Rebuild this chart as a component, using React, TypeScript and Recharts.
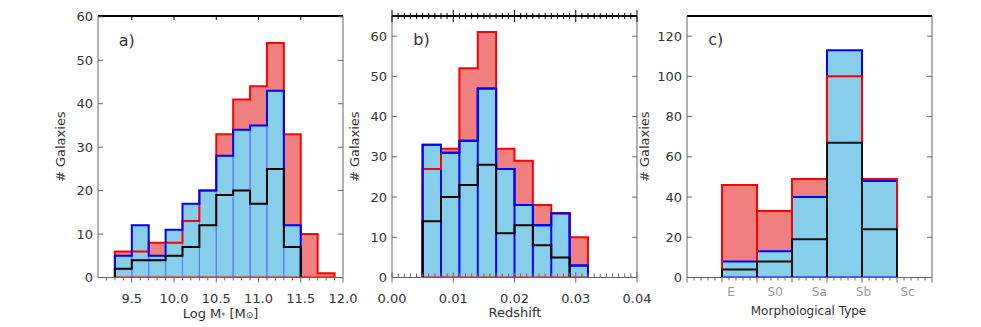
import React from "react";
import { ComposedChart, Area, Line, XAxis, YAxis } from "recharts";

// a) stellar mass histogram, bins of 0.2 dex
const massEdges = [9.3, 9.5, 9.7, 9.9, 10.1, 10.3, 10.5, 10.7, 10.9, 11.1, 11.3, 11.5, 11.7, 11.9];
const massAll = [6, 6, 8, 8, 13, 20, 33, 41, 44, 54, 33, 10, 1];
const massBlue = [5, 12, 5, 11, 17, 20, 28, 34, 35, 43, 12];
const massBlack = [2, 4, 4, 5, 7, 12, 19, 20, 17, 25, 7];
const massMajor = [9.5, 10, 10.5, 11, 11.5, 12];

// b) redshift histogram
const zEdges = [0.005, 0.008, 0.011, 0.014, 0.017, 0.02, 0.023, 0.026, 0.029, 0.032];
const zAll = [27, 32, 52, 61, 32, 29, 18, 16, 10];
const zBlue = [33, 31, 34, 47, 27, 18, 13, 16, 3];
const zBlack = [14, 20, 23, 28, 11, 13, 8, 5];
const zMajor = [0, 0.01, 0.02, 0.03, 0.04];

// c) morphological type
const typeEdges = [1, 2, 3, 4, 5, 6];
const typeAll = [46, 33, 49, 100, 49];
const typeBlue = [8, 13, 40, 113, 48];
const typeBlack = [4, 8, 19, 67, 24];
const typeNames = ["E", "S0", "Sa", "Sb", "Sc"];
const typeNamePos = [1.26, 2.52, 3.78, 5.04, 6.3];
const typeMajor = [0, 1, 2, 3, 4, 5, 6, 7];

const FONT = "'DejaVu Sans', sans-serif";
const INK = "#333";
const AXIS = "#666";
const RED = "#ff0000";
const RED_FILL = "#f08080";
const BLUE = "#0000ff";
const BLUE_FILL = "#87ceeb";

type Pt = { x: number; y: number };

function steps(edges: number[], counts: number[], close = false): Pt[] {
  const pts: Pt[] = [{ x: edges[0], y: 0 }];
  counts.forEach((c, i) => pts.push({ x: edges[i], y: c }, { x: edges[i + 1], y: c }));
  pts.push({ x: edges[counts.length], y: 0 });
  if (close) pts.push({ x: edges[0], y: 0 });
  return pts;
}

function boxes(edges: number[], counts: number[]): Pt[] {
  const pts: Pt[] = [];
  counts.forEach((c, i) =>
    pts.push({ x: edges[i], y: 0 }, { x: edges[i], y: c }, { x: edges[i + 1], y: c }, { x: edges[i + 1], y: 0 })
  );
  return pts;
}

function range(a: number, b: number, step: number) {
  const out: number[] = [];
  for (let v = a; v <= b + step / 2; v += step) out.push(+v.toFixed(5));
  return out;
}

const near = (list: number[], v: number) => list.some((m) => Math.abs(m - v) < 1e-7);

function bottomTick(
  majors: number[],
  fmt: ((v: number) => string) | null,
  style: "out" | "cross",
  names?: { pos: number[]; text: string[] }
) {
  return (t: any) => {
    const v = t.payload.value;
    if (names) {
      const k = names.pos.findIndex((q) => Math.abs(q - v) < 1e-7);
      if (k >= 0)
        return (
          <text x={t.x} y={t.y + 14.5} textAnchor="middle" dominantBaseline="central" fontFamily={FONT} fontSize={12} fill="#999">
            {names.text[k]}
          </text>
        );
    }
    const major = near(majors, v);
    const [a, b] = style === "out" ? [0, major ? 5 : 3] : major ? [-5, 5] : [-4, 0];
    return (
      <g>
        <line x1={t.x} x2={t.x} y1={t.y + a} y2={t.y + b} stroke={AXIS} />
        {major && fmt && (
          <text x={t.x} y={t.y + 20.5} textAnchor="middle" dominantBaseline="central" fontFamily={FONT} fontSize={13} fill={INK}>
            {fmt(v)}
          </text>
        )}
      </g>
    );
  };
}

function topTick(majors: number[], style: "down" | "cross") {
  return (t: any) => {
    const major = near(majors, t.payload.value);
    const [a, b] = style === "down" ? [0, 4] : major ? [-6, 6] : [-3, 3];
    return <line x1={t.x} x2={t.x} y1={t.y + a} y2={t.y + b} stroke="#000" />;
  };
}

const leftTick = (t: any) => (
  <g>
    <line x1={t.x} x2={t.x + 5} y1={t.y} y2={t.y} stroke={AXIS} />
    <text x={t.x - 5} y={t.y} textAnchor="end" dominantBaseline="central" fontFamily={FONT} fontSize={13} fill={INK}>
      {t.payload.value}
    </text>
  </g>
);

const rightTick = (t: any) => <line x1={t.x - 5} x2={t.x} y1={t.y} y2={t.y} stroke={AXIS} />;

type Fill = { data: Pt[]; color: string };
type Stroke = { data: Pt[]; color: string; width: number };

type PanelProps = {
  left: number;
  xDomain: [number, number];
  yMax: number;
  yTicks: number[];
  fills: Fill[];
  strokes: Stroke[];
  bottomTicks: number[];
  bottomRender: (t: any) => any;
  topTicks: number[];
  topRender: (t: any) => any;
};

function Panel(p: PanelProps) {
  return (
    <div style={{ position: "absolute", left: p.left - 60, top: 0 }}>
      <ComposedChart width={320} height={327} margin={{ top: 0, right: 5, bottom: 9.5, left: 0 }}>
        <XAxis
          xAxisId="b"
          dataKey="x"
          type="number"
          domain={p.xDomain}
          allowDataOverflow
          ticks={p.bottomTicks}
          interval={0}
          tickSize={0}
          tickMargin={0}
          height={40}
          axisLine={{ stroke: AXIS }}
          tickLine={false}
          tick={p.bottomRender}
        />
        <XAxis
          xAxisId="t"
          dataKey="x"
          orientation="top"
          type="number"
          domain={p.xDomain}
          allowDataOverflow
          ticks={p.topTicks}
          interval={0}
          tickSize={0}
          tickMargin={0}
          height={16}
          axisLine={{ stroke: "#000", strokeWidth: 2 }}
          tickLine={false}
          tick={p.topRender}
        />
        <YAxis
          yAxisId="l"
          type="number"
          domain={[0, p.yMax]}
          allowDataOverflow
          ticks={p.yTicks}
          interval={0}
          width={60}
          tickSize={0}
          tickMargin={0}
          axisLine={{ stroke: AXIS }}
          tickLine={false}
          tick={leftTick}
        />
        <YAxis
          yAxisId="r"
          orientation="right"
          type="number"
          domain={[0, p.yMax]}
          allowDataOverflow
          ticks={p.yTicks}
          interval={0}
          width={10}
          tickSize={0}
          tickMargin={0}
          axisLine={{ stroke: AXIS }}
          tickLine={false}
          tick={rightTick}
        />
        {p.fills.map((f, i) => (
          <Area
            key={"f" + i}
            xAxisId="b"
            yAxisId="l"
            data={f.data}
            dataKey="y"
            type="linear"
            stroke="none"
            fill={f.color}
            fillOpacity={1}
            isAnimationActive={false}
          />
        ))}
        {/* invisible series so the top and right axes get a scale */}
        <Line
          xAxisId="t"
          yAxisId="r"
          data={p.fills[0].data}
          dataKey="y"
          type="linear"
          stroke="none"
          dot={false}
          isAnimationActive={false}
        />
        {p.strokes.map((s, i) => (
          <Line
            key={"s" + i}
            xAxisId="b"
            yAxisId="l"
            data={s.data}
            dataKey="y"
            type="linear"
            stroke={s.color}
            strokeWidth={s.width}
            dot={false}
            isAnimationActive={false}
          />
        ))}
      </ComposedChart>
    </div>
  );
}

const titleStyle = { fontFamily: FONT, fontSize: 13, fill: INK };

export default function App() {
  return (
    <div style={{ position: "absolute", left: 0, top: 0, width: 981, height: 327, background: "#fff", overflow: "hidden" }}>
      <Panel
        left={98}
        xDomain={[9.1, 12]}
        yMax={60.2}
        yTicks={[0, 10, 20, 30, 40, 50, 60]}
        fills={[
          { data: steps(massEdges, massAll), color: RED_FILL },
          { data: steps(massEdges, massBlue), color: BLUE_FILL },
        ]}
        strokes={[
          { data: boxes(massEdges, massBlue), color: "#5b7ff5", width: 1 },
          { data: steps(massEdges, massAll, true), color: RED, width: 2 },
          { data: steps(massEdges, massBlue), color: BLUE, width: 2 },
          { data: steps(massEdges, massBlack), color: "#000", width: 2 },
        ]}
        bottomTicks={range(9.2, 12, 0.1)}
        bottomRender={bottomTick(massMajor, (v) => v.toFixed(1), "out")}
        topTicks={[9.5, 10, 10.5, 11, 11.5]}
        topRender={topTick(massMajor, "down")}
      />
      <Panel
        left={392.3}
        xDomain={[0, 0.04]}
        yMax={65}
        yTicks={[0, 10, 20, 30, 40, 50, 60]}
        fills={[
          { data: steps(zEdges, zAll), color: RED_FILL },
          { data: steps(zEdges, zBlue), color: BLUE_FILL },
        ]}
        strokes={[
          { data: boxes(zEdges, zBlue), color: BLUE, width: 2 },
          { data: steps(zEdges, zAll, true), color: RED, width: 2 },
          { data: steps(zEdges, zBlue), color: BLUE, width: 2 },
          { data: steps(zEdges, zBlack), color: "#000", width: 2 },
        ]}
        bottomTicks={range(0, 0.04, 0.001)}
        bottomRender={bottomTick(zMajor, (v) => v.toFixed(2), "cross")}
        topTicks={range(0, 0.04, 0.001)}
        topRender={topTick(zMajor, "cross")}
      />
      <Panel
        left={686.7}
        xDomain={[0, 7]}
        yMax={130}
        yTicks={[0, 20, 40, 60, 80, 100, 120]}
        fills={[
          { data: steps(typeEdges, typeAll), color: RED_FILL },
          { data: steps(typeEdges, typeBlue), color: BLUE_FILL },
        ]}
        strokes={[
          { data: steps(typeEdges, typeBlue, true), color: BLUE, width: 2 },
          { data: boxes(typeEdges, typeAll), color: RED, width: 2 },
          { data: boxes(typeEdges, typeBlack), color: "#111", width: 2 },
        ]}
        bottomTicks={[...range(0, 7, 0.2), ...typeNamePos].sort((a, b) => a - b)}
        bottomRender={bottomTick(typeMajor, null, "out", { pos: typeNamePos, text: typeNames })}
        topTicks={[]}
        topRender={topTick([], "down")}
      />
      <svg width={981} height={327} style={{ position: "absolute", left: 0, top: 0, pointerEvents: "none" }}>
        <text x={118.7} y={40} dominantBaseline="central" fontFamily={FONT} fontSize={16} fill={INK}>a)</text>
        <text x={413.3} y={39} dominantBaseline="central" fontFamily={FONT} fontSize={16} fill={INK}>b)</text>
        <text x={708.3} y={39} dominantBaseline="central" fontFamily={FONT} fontSize={16} fill={INK}>c)</text>
        <text x={220.5} y={313.3} textAnchor="middle" dominantBaseline="central" {...titleStyle}>
          Log M<tspan fontSize={8} dy={3}>*</tspan>
          <tspan dy={-3}> [M</tspan>
          <tspan fontSize={9} dy={2}>⊙</tspan>
          <tspan dy={-2}>]</tspan>
        </text>
        <text x={515} y={312.5} textAnchor="middle" dominantBaseline="central" {...titleStyle}>Redshift</text>
        <text x={808.5} y={310.5} textAnchor="middle" dominantBaseline="central" fontFamily={FONT} fontSize={12} fill={INK}>
          Morphological Type
        </text>
        <text x={60.7} y={146.7} textAnchor="middle" dominantBaseline="central" transform="rotate(-90 60.7 146.7)" {...titleStyle}>
          # Galaxies
        </text>
        <text x={354.3} y={146.7} textAnchor="middle" dominantBaseline="central" transform="rotate(-90 354.3 146.7)" {...titleStyle}>
          # Galaxies
        </text>
        <text x={645} y={146.7} textAnchor="middle" dominantBaseline="central" transform="rotate(-90 645 146.7)" {...titleStyle}>
          # Galaxies
        </text>
      </svg>
    </div>
  );
}
